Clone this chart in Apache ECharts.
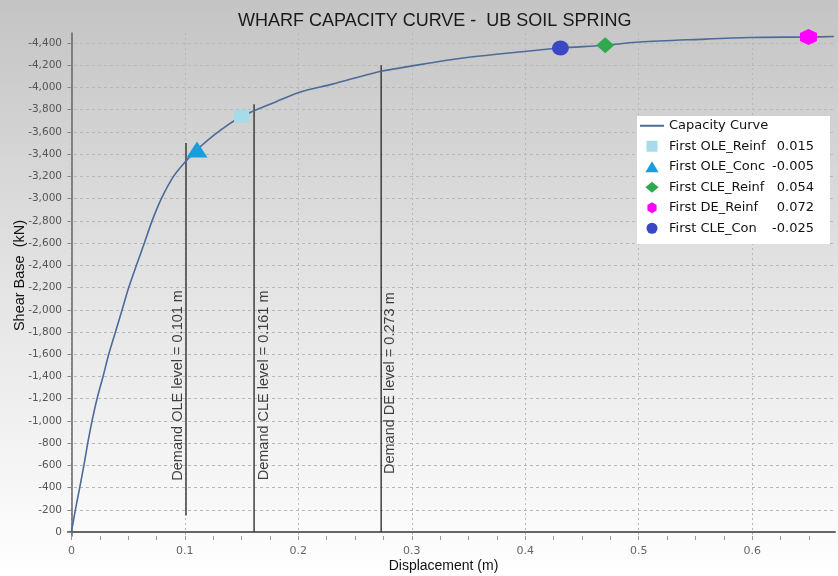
<!DOCTYPE html>
<html><head><meta charset="utf-8">
<script src="https://cdn.jsdelivr.net/npm/echarts@6/dist/echarts.min.js"></script>
<style>html,body{margin:0;padding:0;background:#fff}#c{width:838px;height:576px}</style>
</head><body><div id="c"></div>
<script>
const chartTitle = 'WHARF CAPACITY CURVE -  UB SOIL SPRING';
const xName = 'Displacement (m)';
const yName = 'Shear Base  (kN)';

const capX = [0, 0.0035, 0.0073, 0.011, 0.0144, 0.0182, 0.0226, 0.0279, 0.0329, 0.0388, 0.0447, 0.0505, 0.0573, 0.0643, 0.0711, 0.0793, 0.0900, 0.1005, 0.1107, 0.1308, 0.150, 0.161, 0.18, 0.2018, 0.23, 0.27, 0.29, 0.316, 0.3486, 0.4015, 0.431, 0.4705, 0.501, 0.554, 0.598, 0.6496, 0.672];
const capV = [0, -200, -400, -600, -800, -1000, -1200, -1400, -1600, -1800, -2000, -2200, -2400, -2600, -2800, -3000, -3200, -3333, -3441, -3612, -3741, -3790, -3870, -3960, -4030, -4140, -4176, -4220, -4269, -4326, -4355, -4380, -4409, -4433, -4449, -4454, -4458];

const markerNames = ['First OLE_Reinf', 'First OLE_Conc', 'First CLE_Reinf', 'First DE_Reinf', 'First CLE_Con'];
const markerValues = ['0.015', '-0.005', '0.054', '0.072', '-0.025'];
const markerX = [0.150, 0.1107, 0.4705, 0.6496, 0.431];
const markerV = [-3741, -3441, -4380, -4454, -4355];

const demandNames = ['Demand OLE level = 0.101 m', 'Demand CLE level = 0.161 m', 'Demand DE level = 0.273 m'];
const demandX = [0.101, 0.161, 0.273];
const demandBottom = [-150, 0, 0];
const demandTop = [-3500, -3850, -4200];
const demandLabelV = [-1320, -1320, -1340];

const xTicks = [0, 0.1, 0.2, 0.3, 0.4, 0.5, 0.6];
const xMinorTicks = [0, 0.025, 0.05, 0.075, 0.1, 0.125, 0.15, 0.175, 0.2, 0.225, 0.25, 0.275, 0.3, 0.325, 0.35, 0.375, 0.4, 0.425, 0.45, 0.475, 0.5, 0.525, 0.55, 0.575, 0.6, 0.625, 0.65];
const yTicks = [0, -200, -400, -600, -800, -1000, -1200, -1400, -1600, -1800, -2000, -2200, -2400, -2600, -2800, -3000, -3200, -3400, -3600, -3800, -4000, -4200, -4400];

const hexPath = 'path://M5,0 L10,3 L10,9 L5,12 L0,9 L0,3 Z';
const markerStyle = [
  { symbol: 'rect', size: [15, 13], color: '#a6dbe9', legendIcon: 'path://M0,0 L10,0 L10,10 L0,10 Z', },
  { symbol: 'triangle', size: [21, 16], color: '#169fdc', legendIcon: 'path://M6,0 L12,10 L0,10 Z' },
  { symbol: 'diamond', size: [18, 16], color: '#2fa84f', legendIcon: 'path://M6,0 L12,5 L6,10 L0,5 Z' },
  { symbol: hexPath, size: [17, 16], color: '#ff00ff', legendIcon: hexPath },
  { symbol: 'circle', size: [17, 15], color: '#3a48c6', legendIcon: 'circle' }
];
const labelOffsets = [[0, -8], [0, 10], [0, 9]];

const chart = echarts.init(document.getElementById('c'), null, { renderer: 'canvas' });

const series = [];
series.push({
  name: 'Capacity Curve', type: 'line', symbol: 'none', smooth: 0.3,
  data: capX.map((x, i) => [x, capV[i]]),
  lineStyle: { color: '#4d6b98', width: 1.6 }, itemStyle: { color: '#4d6b98' }, z: 3
});
demandX.forEach((x, i) => {
  series.push({
    name: demandNames[i], type: 'line', symbol: 'none', silent: true,
    data: [[x, demandBottom[i]], [x, demandTop[i]]],
    lineStyle: { color: '#333', width: 1.4 }, z: 2
  });
  series.push({
    name: demandNames[i] + ' label', type: 'scatter', symbolSize: 0, silent: true,
    data: [[x, demandLabelV[i]]],
    label: { show: true, position: 'inside', rotate: 90, offset: labelOffsets[i],
      formatter: demandNames[i], color: '#111', fontSize: 14.5, fontFamily: 'Liberation Sans, Arial, sans-serif' }
  });
});
markerNames.forEach((n, i) => {
  series.push({
    name: n, type: 'scatter', symbol: markerStyle[i].symbol, symbolSize: markerStyle[i].size,
    symbolKeepAspect: false,
    data: [[markerX[i], markerV[i]]],
    itemStyle: { color: markerStyle[i].color, opacity: 1 }, z: 5
  });
});

const valueOf = {};
markerNames.forEach((n, i) => { valueOf[n] = markerValues[i]; });

const legendData = [{ name: 'Capacity Curve', itemStyle: { opacity: 0 } }].concat(
  markerNames.map((n, i) => ({ name: n, icon: markerStyle[i].legendIcon }))
);

chart.setOption({
  animation: false,
  backgroundColor: new echarts.graphic.LinearGradient(0, 0, 0, 1, [
    { offset: 0, color: '#c4c4c4' }, { offset: 0.5, color: '#e4e4e4' }, { offset: 1, color: '#ffffff' }
  ]),
  title: {
    text: chartTitle, left: 233, top: 7,
    textStyle: { fontFamily: 'Liberation Sans, Arial, sans-serif', fontWeight: 'normal', fontSize: 18, color: '#1a1a1a' }
  },
  grid: { left: 68, right: 3, top: 33, bottom: 40, containLabel: false, outerBoundsMode: 'none' },
  legend: {
    orient: 'vertical', left: 637, top: 116,
    backgroundColor: '#ffffff', padding: [2, 16, 8, 2],
    itemWidth: 24, itemHeight: 11, itemGap: 5, symbolKeepAspect: true,
    data: legendData,
    formatter: (name) => valueOf[name] !== undefined ? '{n|' + name + '}{v|' + valueOf[name] + '}' : '{n|' + name + '}',
    textStyle: {
      color: '#111', fontSize: 13, fontFamily: 'DejaVu Sans, sans-serif', lineHeight: 15.5,
      rich: {
        n: { width: 112, fontSize: 13, fontFamily: 'DejaVu Sans, sans-serif', color: '#111', lineHeight: 15.5 },
        v: { width: 33, align: 'right', fontSize: 13, fontFamily: 'DejaVu Sans, sans-serif', color: '#111', lineHeight: 15.5 }
      }
    }
  },
  xAxis: [{
    type: 'value', min: -0.003, max: 0.673, position: 'bottom',
    name: xName, nameLocation: 'middle', nameGap: 23, nameMoveOverlap: false,
    nameTextStyle: { fontFamily: 'Liberation Sans, Arial, sans-serif', fontSize: 14, color: '#111', padding: [0, 16, 0, 0] },
    axisLine: { show: true, lineStyle: { color: '#666', width: 2 } },
    axisTick: { show: false, customValues: xTicks },
    axisLabel: { customValues: xTicks, color: '#666', fontSize: 11, fontFamily: 'DejaVu Sans, sans-serif', margin: 10,
      formatter: v => String(v) },
    splitLine: { show: true, lineStyle: { color: '#b8b8b8', type: [2, 3], width: 1 } }
  }, {
    type: 'value', min: -0.003, max: 0.673, position: 'bottom',
    axisLine: { show: false },
    axisTick: { show: true, customValues: xMinorTicks, length: 4, lineStyle: { color: '#999' } },
    axisLabel: { show: false },
    splitLine: { show: false }
  }],
  yAxis: {
    type: 'value', min: -4490, max: 35, inverse: true,
    name: yName, nameLocation: 'middle', nameGap: 41, nameRotate: 90, nameMoveOverlap: false,
    nameTextStyle: { fontFamily: 'Liberation Sans, Arial, sans-serif', fontSize: 14.5, color: '#111', padding: [0, 0, 0, 18] },
    axisLine: { show: true, lineStyle: { color: '#666', width: 1.5 } },
    axisTick: { show: true, customValues: yTicks, length: 4, lineStyle: { color: '#888' } },
    axisLabel: { customValues: yTicks, color: '#555', fontSize: 10.5, fontFamily: 'DejaVu Sans, sans-serif', margin: 6,
      formatter: v => Number(v).toLocaleString('en-US') },
    splitLine: { show: true, lineStyle: { color: '#b8b8b8', type: [3, 3], width: 1 } }
  },
  series: series
});
</script></body></html>
